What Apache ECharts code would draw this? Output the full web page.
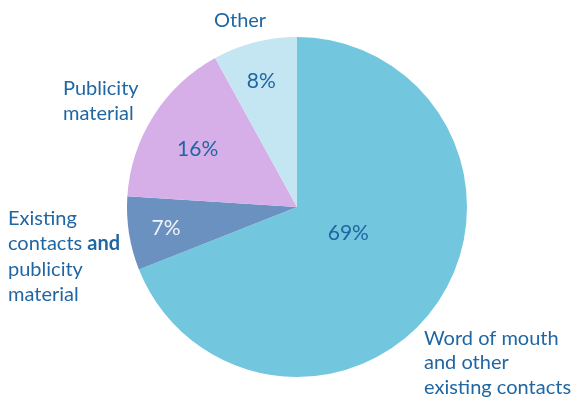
<!DOCTYPE html>
<html>
<head>
<meta charset="utf-8">
<script src="https://cdn.jsdelivr.net/npm/echarts@6/dist/echarts.min.js"></script>
<style>
  html, body { margin: 0; padding: 0; background: #fff; }
  #chart { width: 576px; height: 398px; }
</style>
</head>
<body>
<div id="chart"></div>
<script>
// How people heard about the service (percent of respondents)
const categories = [
  'Word of mouth and other existing contacts',
  'Existing contacts and publicity material',
  'Publicity material',
  'Other'
];
const shares = [69, 7, 16, 8];
const sliceColors = ['#72c6de', '#6a91bf', '#d6afe8', '#c4e6f2'];
const valueColors = ['#1f66a3', '#f2f4fb', '#1f66a3', '#1f66a3'];

const TEXT = '#1f66a3';
const FONT = 'Lato, "Open Sans", sans-serif';
const CENTER = [297, 207];
const RADIUS = 170;
// placement of each percentage inside its slice: fraction of radius, and angular nudge (deg)
const labelRadius = [0.34, 0.78, 0.675, 0.77];
const labelNudge = [-6.8, 0, -2.4, -1.4];

const total = shares.reduce((a, b) => a + b, 0);
const midAngles = [];
let acc = 0;
shares.forEach(v => {
  midAngles.push((acc + v / 2) / total * Math.PI * 2);
  acc += v;
});

const chart = echarts.init(document.getElementById('chart'));
chart.setOption({
  animation: false,
  series: [{
    type: 'pie',
    center: CENTER,
    radius: RADIUS,
    startAngle: 90,
    clockwise: true,
    silent: true,
    itemStyle: { borderWidth: 0 },
    label: {
      show: true,
      position: 'inside',
      formatter: p => p.value + '%',
      color: TEXT,
      fontFamily: FONT,
      fontSize: 21
    },
    labelLine: { show: false },
    labelLayout: params => {
      const i = params.dataIndex;
      const a = midAngles[i] + labelNudge[i] * Math.PI / 180;
      const r = RADIUS * labelRadius[i];
      return {
        x: CENTER[0] + r * Math.sin(a),
        y: CENTER[1] - r * Math.cos(a),
        align: 'center',
        verticalAlign: 'middle'
      };
    },
    data: categories.map((name, i) => ({
      name,
      value: shares[i],
      itemStyle: { color: sliceColors[i] },
      label: { color: valueColors[i] }
    }))
  }],
  graphic: [
    {
      type: 'text', left: 214, top: 11,
      style: { text: 'Other', fill: TEXT, font: '20px ' + FONT }
    },
    {
      type: 'text', left: 63, top: 76,
      style: { text: 'Publicity\nmaterial', fill: TEXT, font: '20px ' + FONT, lineHeight: 25 }
    },
    {
      type: 'text', left: 8, top: 206,
      style: {
        text: 'Existing\ncontacts {b|and}\npublicity\nmaterial',
        fill: TEXT, font: '20px ' + FONT, lineHeight: 25.3,
        rich: { b: { fontWeight: 'bold', fill: TEXT, fontSize: 20, fontFamily: FONT, lineHeight: 25.3 } }
      }
    },
    {
      type: 'text', left: 424, top: 326,
      style: { text: 'Word of mouth\nand other\nexisting contacts', fill: TEXT, font: '20px ' + FONT, lineHeight: 24.5 }
    }
  ]
});
</script>
</body>
</html>
